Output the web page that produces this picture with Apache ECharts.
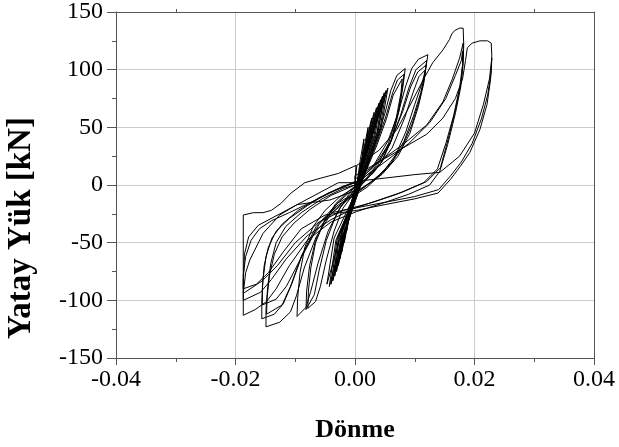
<!DOCTYPE html>
<html><head><meta charset="utf-8">
<script src="https://cdn.jsdelivr.net/npm/echarts@6/dist/echarts.min.js"></script>
<style>html,body{margin:0;padding:0;background:#fff}#c{width:619px;height:447px}</style>
</head><body><div id="c"></div>
<script>
// Axis ranges / titles
const xRange = [-0.04, 0.04];
const yRange = [-150, 150];
const xTitle = 'Dönme';
const yTitle = 'Yatay Yük [kN]';

// Small elastic cycles (rotation, load kN)
const fan1 = [[0.0003,0],[0.0009,22],[0.0015,40],[0.0012,24],[0.0005,5],[-0.0005,-16],[-0.001,-30],[-0.0007,-17],[0,-3]];
const fan2 = [[0.0003,0],[0.0013,27],[0.0022,50],[0.0018,30],[0.0007,6],[-0.0007,-21],[-0.0014,-40],[-0.001,-22],[0,-4]];
const fan3 = [[0.0003,0],[0.0016,32],[0.0028,58],[0.0022,35],[0.0008,7],[-0.0009,-26],[-0.0018,-50],[-0.0013,-28],[0,-5]];
const fan4 = [[0.0003,0],[0.0018,35],[0.0032,63],[0.0026,38],[0.001,8],[-0.0011,-30],[-0.0022,-58],[-0.0016,-32],[0,-6]];
const fan5 = [[0.0003,0],[0.002,37],[0.0036,67],[0.0029,40],[0.0011,8],[-0.0013,-33],[-0.0025,-64],[-0.0019,-35],[0,-6]];
const fan6 = [[0.0003,0],[0.0022,39],[0.004,71],[0.0032,43],[0.0012,9],[-0.0014,-36],[-0.0028,-70],[-0.0021,-38],[0,-7]];
const fan7 = [[0.0003,0],[0.0024,41],[0.0043,74],[0.0034,44],[0.0013,9],[-0.0016,-39],[-0.0031,-75],[-0.0023,-41],[0,-7]];
const fan8 = [[0.0003,0],[0.0026,42],[0.0046,77],[0.0037,46],[0.0014,9],[-0.0017,-41],[-0.0034,-79],[-0.0026,-43],[0,-8]];
const fan9 = [[0.0003,0],[0.0028,44],[0.0049,80],[0.0039,48],[0.0015,10],[-0.0019,-43],[-0.0037,-83],[-0.0028,-46],[0,-8]];
const fan10 = [[0.0003,0],[0.003,45],[0.0052,82],[0.0042,49],[0.0016,10],[-0.002,-45],[-0.004,-86],[-0.003,-47],[0,-9]];
const fan11 = [[0.0003,0],[0.0031,46],[0.0055,84],[0.0044,50],[0.0017,10],[-0.0022,-46],[-0.0043,-88],[-0.0032,-48],[0,-9]];
const fan12 = [[0.0003,0],[0.0026,40],[0.0047,72],[0.0038,44],[0.0015,9],[-0.0024,-44],[-0.0047,-86],[-0.0035,-46],[0,-8]];

// Larger cycles
const cycB1 = [[0.0003,0],[0.002,18],[0.0035,38],[0.005,62],[0.006,82],[0.007,95],[0.0084,101],[0.0081,88],[0.0074,65],[0.0062,40],[0.0045,20],[0.002,5],[0,-6],[-0.002,-20],[-0.0035,-40],[-0.0048,-65],[-0.0058,-88],[-0.0066,-101],[-0.0079,-107],[-0.0078,-92],[-0.0074,-72],[-0.0066,-50],[-0.0052,-32],[-0.0032,-16],[-0.001,-5],[0.0003,0]];
const cycB2 = [[0.0003,0],[0.002,16],[0.0036,36],[0.0052,60],[0.0063,80],[0.0071,91],[0.0082,96],[0.0079,84],[0.0072,62],[0.006,38],[0.0042,18],[0.0018,4],[-0.0005,-7],[-0.0025,-20],[-0.0045,-40],[-0.0062,-68],[-0.0074,-92],[-0.0082,-106],[-0.0097,-114],[-0.0096,-98],[-0.0092,-76],[-0.0084,-54],[-0.007,-36],[-0.005,-22],[-0.0025,-10],[0,-2]];
const cycB3 = [[0,-2],[0.002,14],[0.0037,35],[0.0053,58],[0.0064,78],[0.0079,92],[0.0077,80],[0.0069,58],[0.0056,36],[0.0038,17],[0.0014,3],[-0.001,-8],[-0.003,-24],[-0.0048,-48],[-0.006,-74],[-0.0068,-95],[-0.0082,-108],[-0.0081,-92],[-0.0076,-70],[-0.0066,-48],[-0.005,-30],[-0.0028,-15],[0,-2]];
const cycC1 = [[0,0],[0.003,16],[0.0055,38],[0.0072,62],[0.0085,86],[0.0095,101],[0.0106,109],[0.0122,113],[0.0118,100],[0.0112,88],[0.01,70],[0.0085,46],[0.0068,26],[0.0045,10],[0.002,-2],[-0.001,-12],[-0.004,-25],[-0.0065,-45],[-0.0085,-72],[-0.0098,-96],[-0.0108,-110],[-0.0126,-119],[-0.0149,-123],[-0.0149,-108],[-0.0146,-88],[-0.0141,-68],[-0.0132,-50],[-0.0116,-36],[-0.009,-24],[-0.0055,-12],[-0.002,-3],[0,0]];
const cycC2 = [[0,0],[0.003,13],[0.0058,35],[0.0076,60],[0.009,84],[0.0102,100],[0.012,108],[0.0117,96],[0.011,80],[0.0098,60],[0.0082,38],[0.0062,20],[0.0035,6],[0.0005,-6],[-0.003,-18],[-0.006,-34],[-0.0088,-60],[-0.0106,-86],[-0.012,-103],[-0.0135,-112],[-0.0156,-116],[-0.0156,-100],[-0.0154,-82],[-0.0149,-62],[-0.0139,-46],[-0.0122,-34],[-0.0095,-22],[-0.006,-11],[-0.002,-1],[0,2]];
const cycC3 = [[0,2],[0.003,15],[0.006,38],[0.008,64],[0.0093,85],[0.0105,98],[0.0119,104],[0.0116,92],[0.0108,74],[0.0095,52],[0.0078,32],[0.0055,15],[0.0025,2],[-0.0005,-8],[-0.0035,-22],[-0.0068,-42],[-0.0095,-68],[-0.0115,-88],[-0.0132,-99],[-0.0155,-104],[-0.0155,-88],[-0.0152,-70],[-0.0145,-54],[-0.0132,-40],[-0.011,-29],[-0.008,-18],[-0.0045,-7],[0,2]];
const cycC4 = [[0,-2],[0.003,10],[0.0062,32],[0.0083,58],[0.0097,80],[0.0107,94],[0.0118,100],[0.0115,88],[0.0106,68],[0.0092,45],[0.0072,25],[0.0045,9],[0.001,-4],[-0.003,-16],[-0.0065,-36],[-0.009,-62],[-0.0108,-88],[-0.0122,-104],[-0.0148,-112],[-0.0147,-97],[-0.0143,-78],[-0.0135,-60],[-0.0122,-45],[-0.0102,-33],[-0.0075,-21],[-0.004,-9],[0,0]];
const cycD1 = [[0.0003,17],[0.004,30],[0.007,48],[0.0095,72],[0.0115,92],[0.013,106],[0.0147,117],[0.0158,126],[0.0162,131],[0.0167,134],[0.0175,136],[0.0181,136],[0.0182,122],[0.0181,105],[0.0177,85],[0.0168,62],[0.0155,35],[0.0142,12],[0.0125,0],[0.009,-8],[0.0045,-16],[0.0003,-23],[-0.004,-32],[-0.008,-48],[-0.011,-70],[-0.0132,-90],[-0.0148,-101],[-0.0167,-108],[-0.0187,-113],[-0.0187,-26],[-0.017,-24],[-0.0154,-24],[-0.014,-22],[-0.0124,-16],[-0.0107,-7],[-0.0084,2],[-0.0057,6],[-0.0028,10],[0.0002,17]];
const cycD2 = [[0,5],[0.004,20],[0.008,35],[0.012,52],[0.0147,72],[0.0163,92],[0.0175,110],[0.0181,123],[0.0181,110],[0.0178,90],[0.0168,65],[0.0156,40],[0.0143,15],[0.012,3],[0.008,-6],[0.004,-13],[0,-20],[-0.004,-30],[-0.008,-44],[-0.0115,-64],[-0.014,-82],[-0.0158,-93],[-0.0187,-100],[-0.0187,-85],[-0.0185,-60],[-0.0178,-45],[-0.0162,-35],[-0.0028,2],[0.0003,2]];
const cycD3 = [[0.0003,2],[0.005,20],[0.009,36],[0.0125,54],[0.0152,75],[0.0168,95],[0.0178,108],[0.018,116],[0.018,104],[0.0175,84],[0.0165,60],[0.0152,36],[0.0138,14],[0.0115,2],[0.007,-8],[0.003,-15],[-0.002,-22],[-0.006,-32],[-0.01,-50],[-0.013,-70],[-0.0155,-83],[-0.0187,-94],[-0.0183,-76],[-0.0176,-65],[-0.0154,-42],[-0.0126,-26],[-0.0097,-17],[-0.0042,-13],[0,-5]];
const cycE1 = [[0,8],[0.004,20],[0.008,32],[0.012,44],[0.0147,58],[0.0168,75],[0.018,92],[0.0185,108],[0.0188,119],[0.0196,123],[0.0209,125],[0.0222,125],[0.0228,123],[0.0229,112],[0.0227,92],[0.0221,70],[0.0209,48],[0.0192,28],[0.0176,16],[0.016,5],[0.0139,-7],[0.01,-12],[0.005,-17],[0.0003,-22],[-0.005,-26],[-0.009,-38],[-0.012,-58],[-0.0145,-76],[-0.0165,-86],[-0.0187,-90],[-0.0187,-78],[-0.0183,-62],[-0.0174,-48],[-0.016,-38],[-0.014,-31],[-0.011,-24],[-0.007,-14],[-0.003,-4],[0,3]];
const cycE2 = [[0,3],[0.005,6],[0.01,9],[0.0142,11],[0.0175,25],[0.02,45],[0.0215,70],[0.0225,92],[0.0229,110],[0.0228,98],[0.0222,78],[0.0212,58],[0.0196,36],[0.0178,20],[0.016,8],[0.014,-4],[0.01,-10],[0.005,-15],[0,-20],[-0.004,-24]];

const cycles = [fan1,fan2,fan3,fan4,fan5,fan6,fan7,fan8,fan9,fan10,fan11,fan12,cycB1,cycB2,cycB3,cycC1,cycC2,cycC3,cycC4,cycD1,cycD2,cycD3,cycE1,cycE2];
const seriesData = [].concat(...cycles);

const axisColor = '#555';
const labelFont = {fontFamily:'Liberation Serif', fontSize:24, color:'#000'};

const chart = echarts.init(document.getElementById('c'), null, {renderer:'canvas'});
chart.setOption({
  animation:false,
  backgroundColor:'#fff',
  grid:{left:116, right:25, top:10, bottom:89, containLabel:false},
  xAxis:[{
    type:'value', min:xRange[0], max:xRange[1], interval:0.02, position:'bottom',
    axisLine:{show:true, onZero:false, lineStyle:{color:axisColor, width:1}},
    axisTick:{show:true, length:7, lineStyle:{color:axisColor}},
    minorTick:{show:true, splitNumber:2, length:4, lineStyle:{color:axisColor}},
    splitLine:{show:true, lineStyle:{color:'#ccc', width:1}},
    axisLabel:Object.assign({margin:10, formatter:v=>v.toFixed(2)}, labelFont)
  },{
    type:'value', min:xRange[0], max:xRange[1], interval:0.02, position:'top',
    axisLine:{show:true, onZero:false, lineStyle:{color:axisColor, width:1}},
    axisTick:{show:false}, minorTick:{show:true, splitNumber:2, length:3, lineStyle:{color:axisColor}},
    axisLabel:{show:false}, splitLine:{show:false}
  }],
  yAxis:[{
    type:'value', min:yRange[0], max:yRange[1], interval:50, position:'left',
    axisLine:{show:true, onZero:false, lineStyle:{color:axisColor, width:1}},
    axisTick:{show:true, length:9, lineStyle:{color:axisColor}},
    minorTick:{show:true, splitNumber:2, length:4, lineStyle:{color:axisColor}},
    splitLine:{show:true, lineStyle:{color:'#ccc', width:1}},
    axisLabel:Object.assign({margin:13}, labelFont)
  },{
    type:'value', min:yRange[0], max:yRange[1], interval:50, position:'right',
    axisLine:{show:true, onZero:false, lineStyle:{color:axisColor, width:1}},
    axisTick:{show:false}, minorTick:{show:false},
    axisLabel:{show:false}, splitLine:{show:false}
  }],
  series:[{
    type:'line', xAxisIndex:0, yAxisIndex:0, data:seriesData,
    showSymbol:false, symbol:'none', smooth:false,
    lineStyle:{color:'#000', width:1}
  }],
  graphic:[
    {type:'text', x:21, y:228, rotation:Math.PI/2,
     style:{text:yTitle, font:'bold 33px "Liberation Serif"', fill:'#000', align:'center', verticalAlign:'middle', textAlign:'center', textVerticalAlign:'middle'}},
    {type:'text', x:355, y:430,
     style:{text:xTitle, font:'bold 26px "Liberation Serif"', fill:'#000', align:'center', verticalAlign:'middle', textAlign:'center', textVerticalAlign:'middle'}}
  ]
});
</script></body></html>
